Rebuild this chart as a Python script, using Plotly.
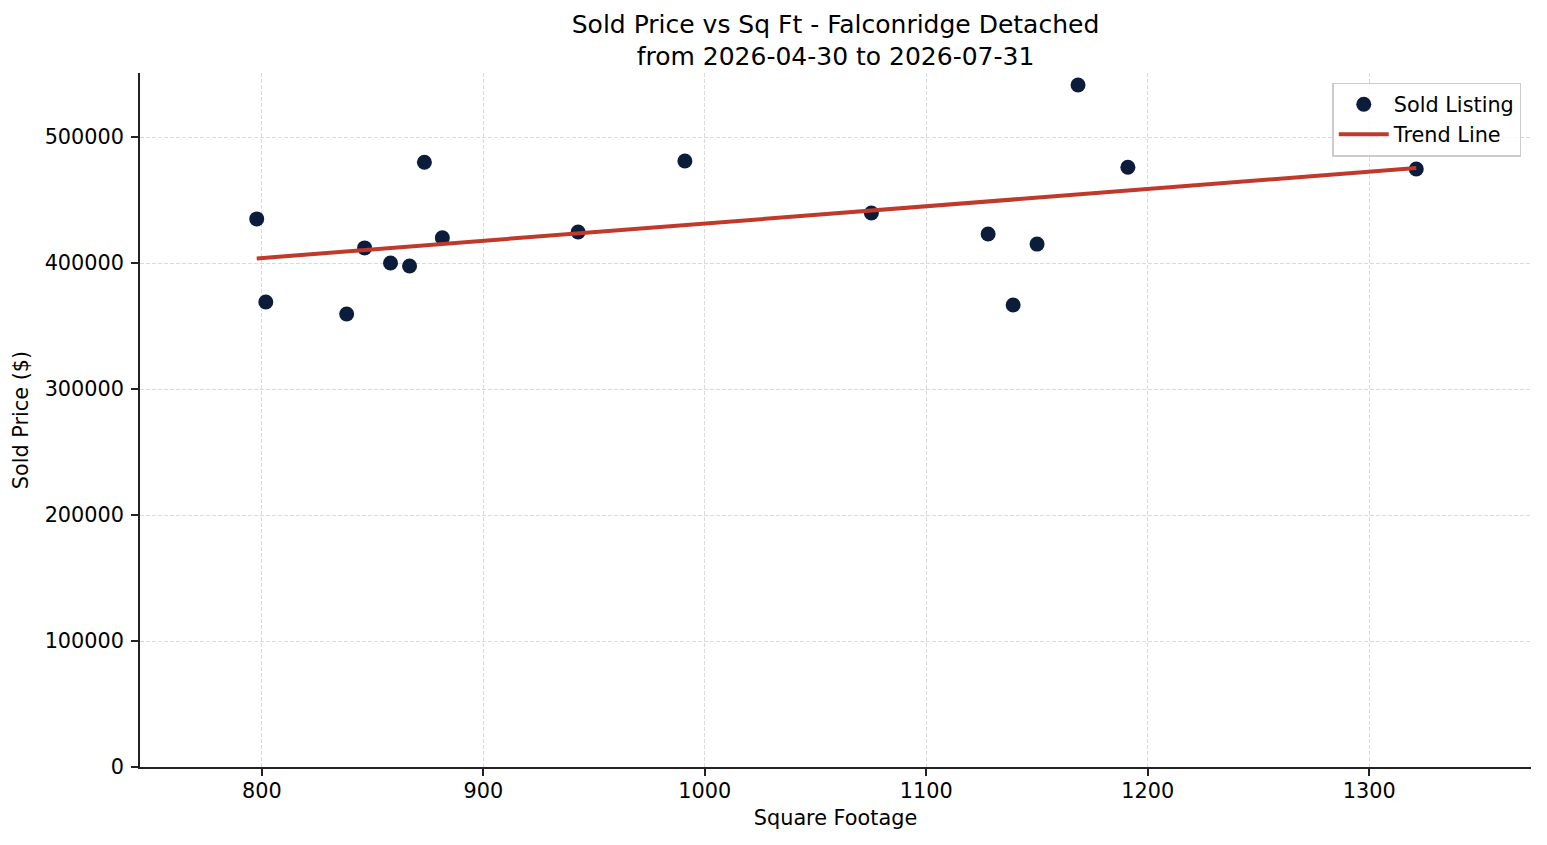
import numpy as np
import plotly.graph_objects as go

# Data
sqft = [797.7, 801.8, 838.3, 846.4, 858.1, 866.7, 873.4, 881.5, 942.8, 991.0,
        1075.2, 1127.9, 1139.2, 1150.0, 1168.5, 1191.0, 1321.2]
price = [435000, 369000, 359500, 412000, 400000, 397600, 480000, 420000, 424600, 481000,
         439700, 423000, 366700, 415000, 541300, 476000, 474600]
x_ticks = [800, 900, 1000, 1100, 1200, 1300]
y_ticks = [0, 100000, 200000, 300000, 400000, 500000]

title_lines = ["Sold Price vs Sq Ft - Falconridge Detached", "from 2026-04-30 to 2026-07-31"]

# Linear trend (least squares) from the data
slope, intercept = np.polyfit(sqft, price, 1)
trend_x = [min(sqft), max(sqft)]
trend_y = [slope * v + intercept for v in trend_x]

FONT = "DejaVu Sans"
FS = 20.8
fig = go.Figure()
fig.add_trace(go.Scatter(
    x=sqft, y=price, mode="markers", name="Sold Listing",
    marker=dict(size=15, color="#0b1d3a", line=dict(width=0)),
))
fig.add_trace(go.Scatter(
    x=trend_x, y=trend_y, mode="lines", name="Trend Line",
    line=dict(color="#c0392b", width=4),
))

axis_common = dict(
    showline=True, linecolor="#222222", linewidth=1.6,
    ticks="outside", ticklen=7, tickwidth=1.6, tickcolor="#222222",
    showgrid=True, gridcolor="#dadada", gridwidth=1, griddash="4px,2px",
    zeroline=False, mirror=False,
    tickfont=dict(family=FONT, size=FS, color="#000000"),
)

# the page body has an 8px margin, so the figure is sized to sit inside the window
fig.update_layout(
    width=1539, height=837,
    paper_bgcolor="white", plot_bgcolor="white",
    margin=dict(l=127, r=16, t=65, b=78),
    font=dict(family=FONT, color="#000000"),
    title=dict(
        text="<br>".join(title_lines),
        x=0.5, xanchor="center", xref="paper",
        y=0.9707, yanchor="top", yref="container",
        font=dict(family=FONT, size=25, color="#000000"),
    ),
    xaxis=dict(
        range=[745, 1373], tickvals=x_ticks, ticktext=[str(v) for v in x_ticks],
        ticklabelstandoff=-3,
        title=dict(text="Square Footage", font=dict(family=FONT, size=FS), standoff=9),
        **axis_common,
    ),
    yaxis=dict(
        range=[0, 550800], tickvals=y_ticks, ticktext=[str(v) for v in y_ticks],
        ticklabelstandoff=3,
        title=dict(text="Sold Price ($)", font=dict(family=FONT, size=FS), standoff=10),
        **axis_common,
    ),
    legend=dict(
        x=0.993, xanchor="right", y=0.986, yanchor="top",
        bgcolor="rgba(255,255,255,0.8)", bordercolor="#cccccc", borderwidth=1.5,
        font=dict(family=FONT, size=FS, color="#000000"),
        itemwidth=50, tracegroupgap=2,
    ),
    showlegend=True,
)

fig.write_html("out.html")
